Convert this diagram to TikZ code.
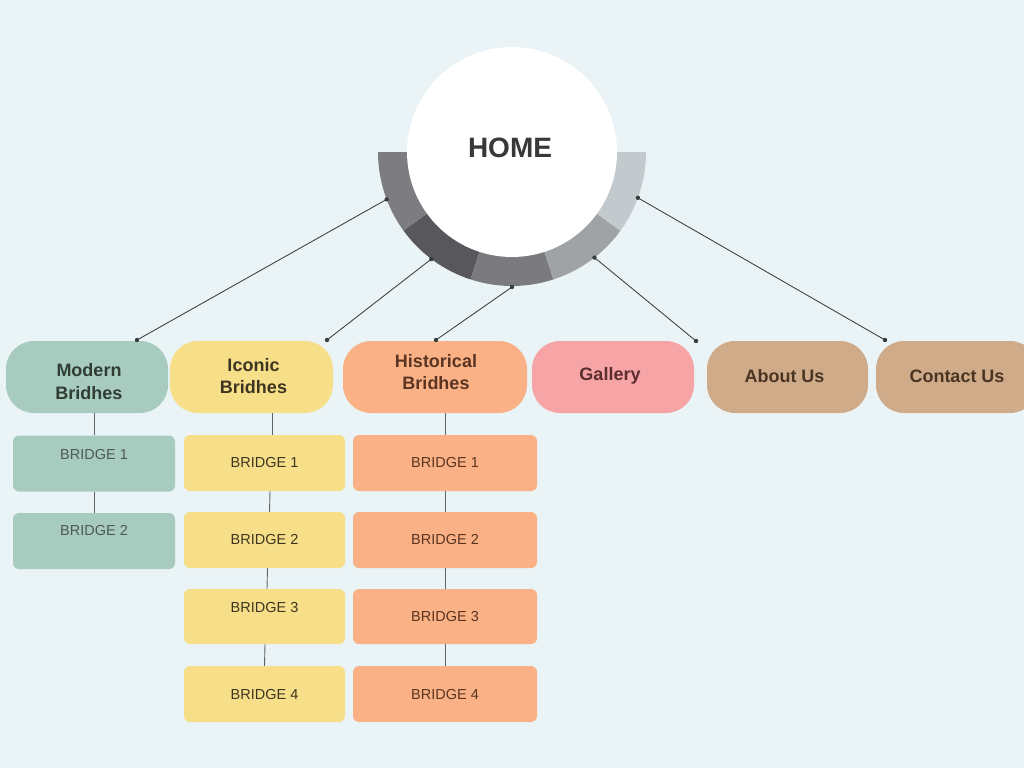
\documentclass[tikz,border=0pt]{standalone}
\usepackage{fontspec}
\setmainfont{Liberation Sans}
\usetikzlibrary{calc}
\definecolor{bg}{HTML}{EAF4F6}
\definecolor{segA}{HTML}{7D7C81}
\definecolor{segB}{HTML}{58575C}
\definecolor{segC}{HTML}{7B7A7F}
\definecolor{segD}{HTML}{9FA3A6}
\definecolor{segE}{HTML}{C3CACD}
\definecolor{sage}{HTML}{A8CBBF}
\definecolor{sun}{HTML}{F7DF8A}
\definecolor{peach}{HTML}{F9B185}
\definecolor{rose}{HTML}{F7A4A7}
\definecolor{tan}{HTML}{D0AB8A}
\definecolor{sageT}{HTML}{2F3D35}
\definecolor{sunT}{HTML}{3D3520}
\definecolor{peachT}{HTML}{5B3522}
\definecolor{roseT}{HTML}{5A2E2E}
\definecolor{tanT}{HTML}{4A3525}
\definecolor{lineC}{HTML}{3A3D40}
\tikzset{
  topbox/.style={rounded corners=28pt, minimum width=162pt, minimum height=72pt,
    inner sep=0pt},
  toplabel/.style={align=center, font=\fontsize{18}{22.5}\selectfont\bfseries},
  bbox/.style={rounded corners=6pt, minimum height=56pt, inner sep=0pt},
  blabel/.style={font=\fontsize{14.5}{17}\selectfont},
  conn/.style={draw=lineC, line width=0.85pt},
  vline/.style={draw=lineC!80, line width=0.9pt},
  dot/.style={fill=lineC}
}
\begin{document}
\begin{tikzpicture}[x=1pt,y=1pt]
\fill[bg] (0,0) rectangle (1024,-768);
\useasboundingbox (0,0) rectangle (1024,-768);
\coordinate (c) at (512,-152);
% ring segments
\foreach \a/\b/\col in {180/216/segA,216/252/segB,252/288/segC,288/324/segD,324/360/segE}{
  \fill[\col] ($(c)+(\a:134pt)$) arc[start angle=\a,end angle=\b,radius=134pt]
     -- ($(c)+(\b:95pt)$) arc[start angle=\b,end angle=\a,radius=95pt] -- cycle;
}
\node[circle, fill=white, minimum size=210pt, inner sep=0pt,
      label={[font=\fontsize{28}{32}\selectfont\bfseries, text=black!78, yshift=4pt, xshift=-2pt]center:HOME}] (home) at (c) {};
% dots on ring
\coordinate (d1) at ($(c)+(200.7:134pt)$);
\coordinate (d2) at ($(c)+(233:134pt)$);
\coordinate (d3) at ($(c)+(270:135pt)$);
\coordinate (d4) at ($(c)+(308:134pt)$);
\coordinate (d5) at ($(c)+(340:134pt)$);
% top nodes
\node[topbox, fill=sage,
  label={[toplabel, text=sageT, yshift=-4.5pt, xshift=2pt]center:Modern\\Bridhes}] (mod) at (87,-377) {};
\node[topbox, fill=sun, minimum width=163pt,
  label={[toplabel, text=sunT, yshift=1pt, xshift=2pt]center:Iconic\\Bridhes}] (ico) at (251.5,-377) {};
\node[topbox, fill=peach, minimum width=184pt,
  label={[toplabel, text=peachT, yshift=5pt, xshift=1pt]center:Historical\\Bridhes}] (his) at (435,-377) {};
\node[topbox, fill=rose, label={[toplabel, text=roseT, yshift=1pt, xshift=-3pt]center:Gallery}] (gal) at (613,-377) {};
\node[topbox, fill=tan, minimum width=161pt,
  label={[toplabel, text=tanT, yshift=1pt, xshift=-3pt]center:About Us}] (abo) at (787.5,-377) {};
\node[topbox, fill=tan, label={[toplabel, text=tanT, yshift=1pt]center:Contact Us}] (con) at (957,-377) {};
% end points
\coordinate (e1) at (137,-340);
\coordinate (e2) at (327,-340);
\coordinate (e3) at (436,-340);
\coordinate (e4) at (696,-341);
\coordinate (e5) at (885,-340);
\foreach \i in {1,...,5}{
  \draw[conn] (d\i) -- (e\i);
  \fill[dot] (d\i) circle (2.2pt);
  \fill[dot] (e\i) circle (2.2pt);
}
% bridge boxes: modern
\node[bbox, fill=sage, minimum width=162pt,
  label={[blabel, text=sageT!85, yshift=9pt]center:BRIDGE 1}] (m1) at (94,-463.5) {};
\node[bbox, fill=sage, minimum width=162pt,
  label={[blabel, text=sageT!85, yshift=10pt]center:BRIDGE 2}] (m2) at (94,-541) {};
% iconic
\node[bbox, fill=sun, minimum width=161pt,
  label={[blabel, text=sunT]center:BRIDGE 1}] (i1) at (264.5,-463) {};
\node[bbox, fill=sun, minimum width=161pt,
  label={[blabel, text=sunT]center:BRIDGE 2}] (i2) at (264.5,-540) {};
\node[bbox, fill=sun, minimum width=161pt, minimum height=55pt,
  label={[blabel, text=sunT, yshift=9.5pt]center:BRIDGE 3}] (i3) at (264.5,-616.5) {};
\node[bbox, fill=sun, minimum width=161pt,
  label={[blabel, text=sunT]center:BRIDGE 4}] (i4) at (264.5,-694) {};
% historical
\node[bbox, fill=peach, minimum width=184pt,
  label={[blabel, text=peachT]center:BRIDGE 1}] (h1) at (445,-463) {};
\node[bbox, fill=peach, minimum width=184pt,
  label={[blabel, text=peachT]center:BRIDGE 2}] (h2) at (445,-540) {};
\node[bbox, fill=peach, minimum width=184pt, minimum height=55pt,
  label={[blabel, text=peachT]center:BRIDGE 3}] (h3) at (445,-616.5) {};
\node[bbox, fill=peach, minimum width=184pt,
  label={[blabel, text=peachT]center:BRIDGE 4}] (h4) at (445,-694) {};
% vertical connectors
\draw[vline] (mod.south -| m1.north) -- (m1.north);
\draw[vline] (m1.south) -- (m2.north);
\draw[vline] ([xshift=7.5pt]i1.north |- ico.south) -- ([xshift=7.5pt]i1.north);
\draw[vline] ([xshift=5.5pt]i1.south) -- ([xshift=5pt]i2.north);
\draw[vline] ([xshift=3pt]i2.south) -- ([xshift=2.5pt]i3.north);
\draw[vline] ([xshift=0.5pt]i3.south) -- ([xshift=0pt]i4.north);
\draw[vline] (his.south -| h1.north) -- (h1.north);
\draw[vline] (h1.south) -- (h2.north);
\draw[vline] (h2.south) -- (h3.north);
\draw[vline] (h3.south) -- (h4.north);
\end{tikzpicture}
\end{document}
